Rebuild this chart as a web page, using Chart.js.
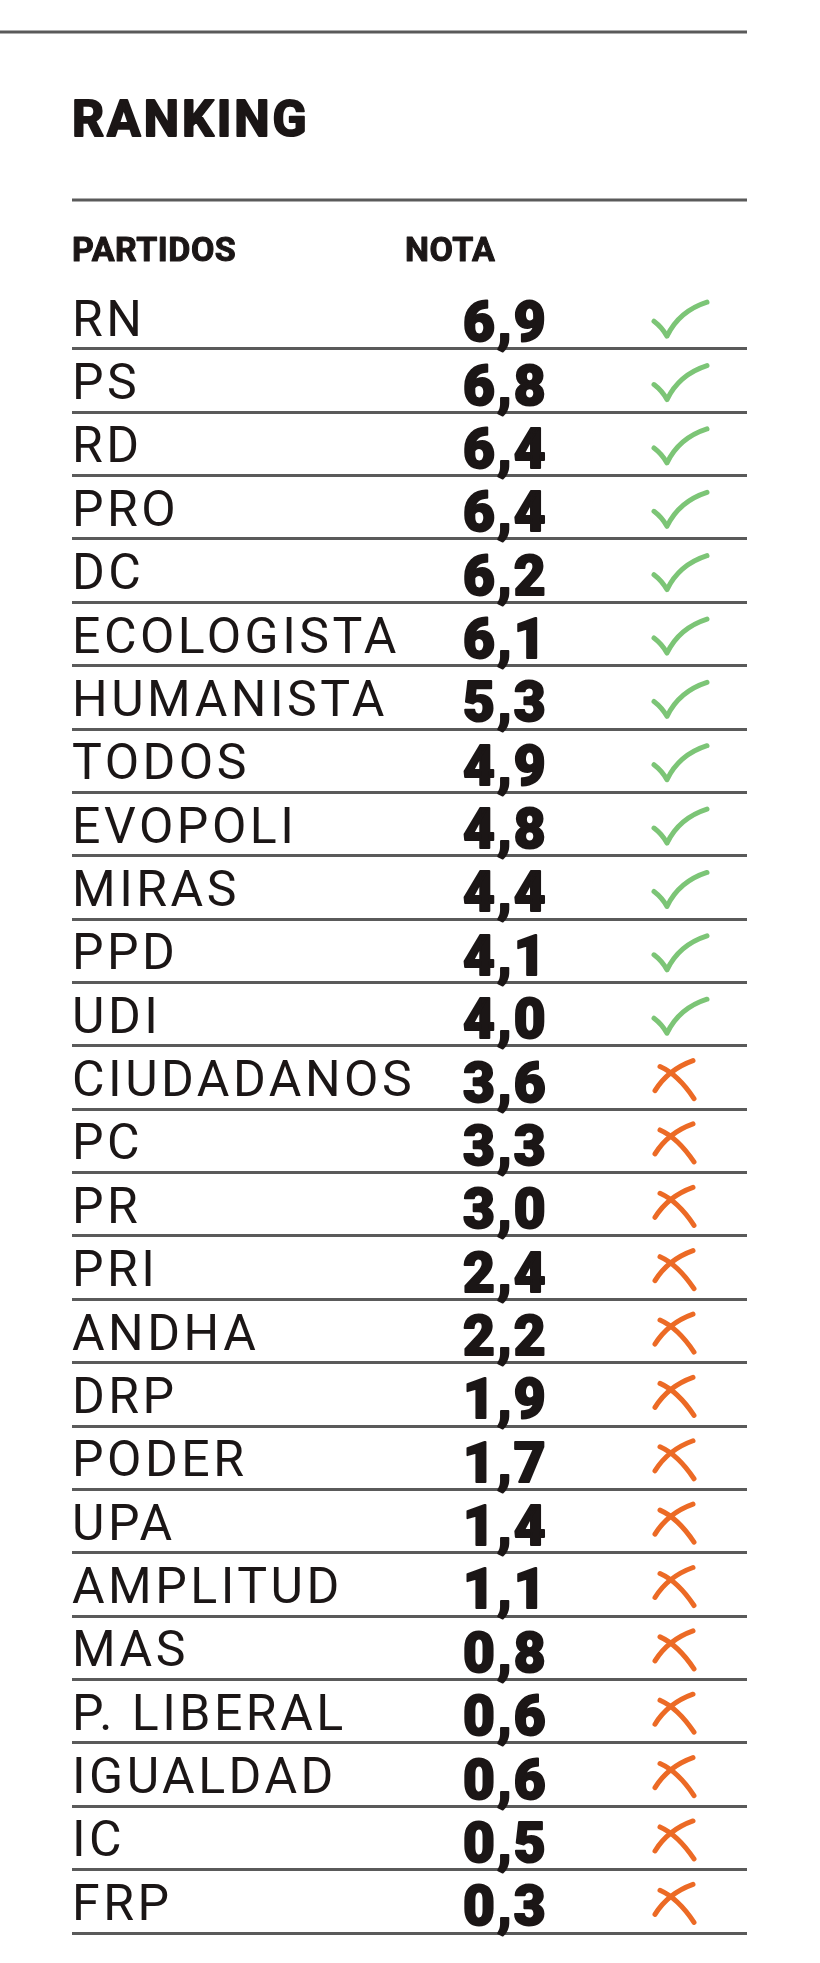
<!DOCTYPE html>
<html lang="es">
<head>
<meta charset="utf-8">
<title>Ranking de partidos</title>
<script src="https://cdn.jsdelivr.net/npm/chart.js@4.4.1/dist/chart.umd.min.js"></script>
<style>
  html, body { margin: 0; padding: 0; background: #fff; }
  #wrap { position: relative; width: 820px; height: 1963px; }
</style>
</head>
<body>
<div id="wrap"><canvas id="ranking"></canvas></div>
<script>
// Datos
const partidos = ["RN", "PS", "RD", "PRO", "DC", "ECOLOGISTA", "HUMANISTA", "TODOS", "EVOPOLI",
    "MIRAS", "PPD", "UDI", "CIUDADANOS", "PC", "PR", "PRI", "ANDHA", "DRP", "PODER", "UPA",
    "AMPLITUD", "MAS", "P. LIBERAL", "IGUALDAD", "IC", "FRP"];
const notas = [6.9, 6.8, 6.4, 6.4, 6.2, 6.1, 5.3, 4.9, 4.8, 4.4, 4.1, 4.0, 3.6, 3.3, 3.0, 2.4,
    2.2, 1.9, 1.7, 1.4, 1.1, 0.8, 0.6, 0.6, 0.5, 0.3];
const titulo = "RANKING";
const encabezados = ["PARTIDOS", "NOTA"];
const notaAprobacion = 4.0;

const FUENTE = "Roboto, 'Open Sans', sans-serif";
const NEGRO = "#1b1616";
const LINEA = "#5a5a5a";
const VERDE = "#7cc576";
const NARANJA = "#ec6a25";

function formatoNota(v) {
    return v.toFixed(1).replace(".", ",");
}

// texto "grueso": relleno + trazo del mismo color
function textoGrueso(ctx, txt, x, y, grosor) {
    ctx.fillText(txt, x, y);
    ctx.lineWidth = grosor;
    ctx.strokeStyle = ctx.fillStyle;
    ctx.strokeText(txt, x, y);
}

// check / cross
function dibujarCheck(ctx, x, y) {
    ctx.strokeStyle = VERDE;
    ctx.beginPath();
    ctx.moveTo(x + 2, y + 4);
    ctx.quadraticCurveTo(x + 10, y + 10, x + 15, y + 19);
    ctx.quadraticCurveTo(x + 27, y - 6, x + 55, y - 15);
    ctx.stroke();
}

function dibujarCruz(ctx, x, y) {
    ctx.strokeStyle = NARANJA;
    ctx.beginPath();
    ctx.moveTo(x + 8, y - 11);
    ctx.quadraticCurveTo(x + 26, y - 3, x + 42, y + 21);
    ctx.stroke();
    ctx.beginPath();
    ctx.moveTo(x + 41, y - 17);
    ctx.quadraticCurveTo(x + 16, y - 8, x + 3, y + 13);
    ctx.stroke();
}

const tabla = {
    id: "tabla",
    beforeDraw(chart) {
        chart.ctx.letterSpacing = "3.5px";
    },
    afterDraw(chart) {
        const { ctx, chartArea } = chart;
        ctx.save();

        // lineas superiores
        ctx.strokeStyle = LINEA;
        ctx.lineWidth = 3;
        ctx.beginPath();
        ctx.moveTo(0, 32);
        ctx.lineTo(chartArea.right, 32);
        ctx.moveTo(chartArea.left, 200);
        ctx.lineTo(chartArea.right, 200);
        ctx.stroke();

        ctx.fillStyle = NEGRO;
        ctx.textBaseline = "alphabetic";
        ctx.textAlign = "left";
        ctx.lineJoin = "round";

        // titulo
        ctx.letterSpacing = "3px";
        ctx.font = "700 50px " + FUENTE;
        textoGrueso(ctx, titulo, chartArea.left, 136, 2);

        // encabezados
        ctx.letterSpacing = "0.5px";
        ctx.font = "700 34px " + FUENTE;
        textoGrueso(ctx, encabezados[0], chartArea.left, 261, 1);
        textoGrueso(ctx, encabezados[1], chartArea.left + 333, 261, 1);

        // notas y marcas
        const meta = chart.getDatasetMeta(0);
        meta.data.forEach(function (bar, i) {
            const y = bar.y;
            ctx.fillStyle = NEGRO;
            ctx.font = "900 55px " + FUENTE;
            ctx.letterSpacing = "2px";
            textoGrueso(ctx, formatoNota(notas[i]), chartArea.left + 391, y + 24, 2);
            ctx.lineWidth = 5;
            ctx.lineCap = "round";
            if (notas[i] >= notaAprobacion) {
                dibujarCheck(ctx, chartArea.left + 580, y);
            } else {
                dibujarCruz(ctx, chartArea.left + 580, y);
            }
        });
        ctx.restore();
    }
};

new Chart(document.getElementById("ranking"), {
    type: "bar",
    data: {
        labels: partidos,
        datasets: [{
            label: "Nota",
            data: notas,
            backgroundColor: "rgba(0,0,0,0)",
            borderWidth: 0
        }]
    },
    options: {
        indexAxis: "y",
        responsive: true,
        maintainAspectRatio: false,
        animation: false,
        events: [],
        layout: {
            padding: { left: 72, right: 73, top: 285.5, bottom: 15 }
        },
        plugins: {
            legend: { display: false },
            tooltip: { enabled: false },
            title: { display: false }
        },
        scales: {
            x: {
                display: false,
                min: 0,
                max: 10
            },
            y: {
                offset: true,
                border: { display: false },
                grid: {
                    offset: true,
                    drawTicks: false,
                    lineWidth: 3,
                    color: function (c) {
                        return c.index === 0 ? "rgba(0,0,0,0)" : LINEA;
                    }
                },
                ticks: {
                    mirror: true,
                    padding: 0,
                    labelOffset: 6,
                    color: NEGRO,
                    font: { family: FUENTE, size: 50, weight: 400 }
                }
            }
        }
    },
    plugins: [tabla]
});
</script>
</body>
</html>
